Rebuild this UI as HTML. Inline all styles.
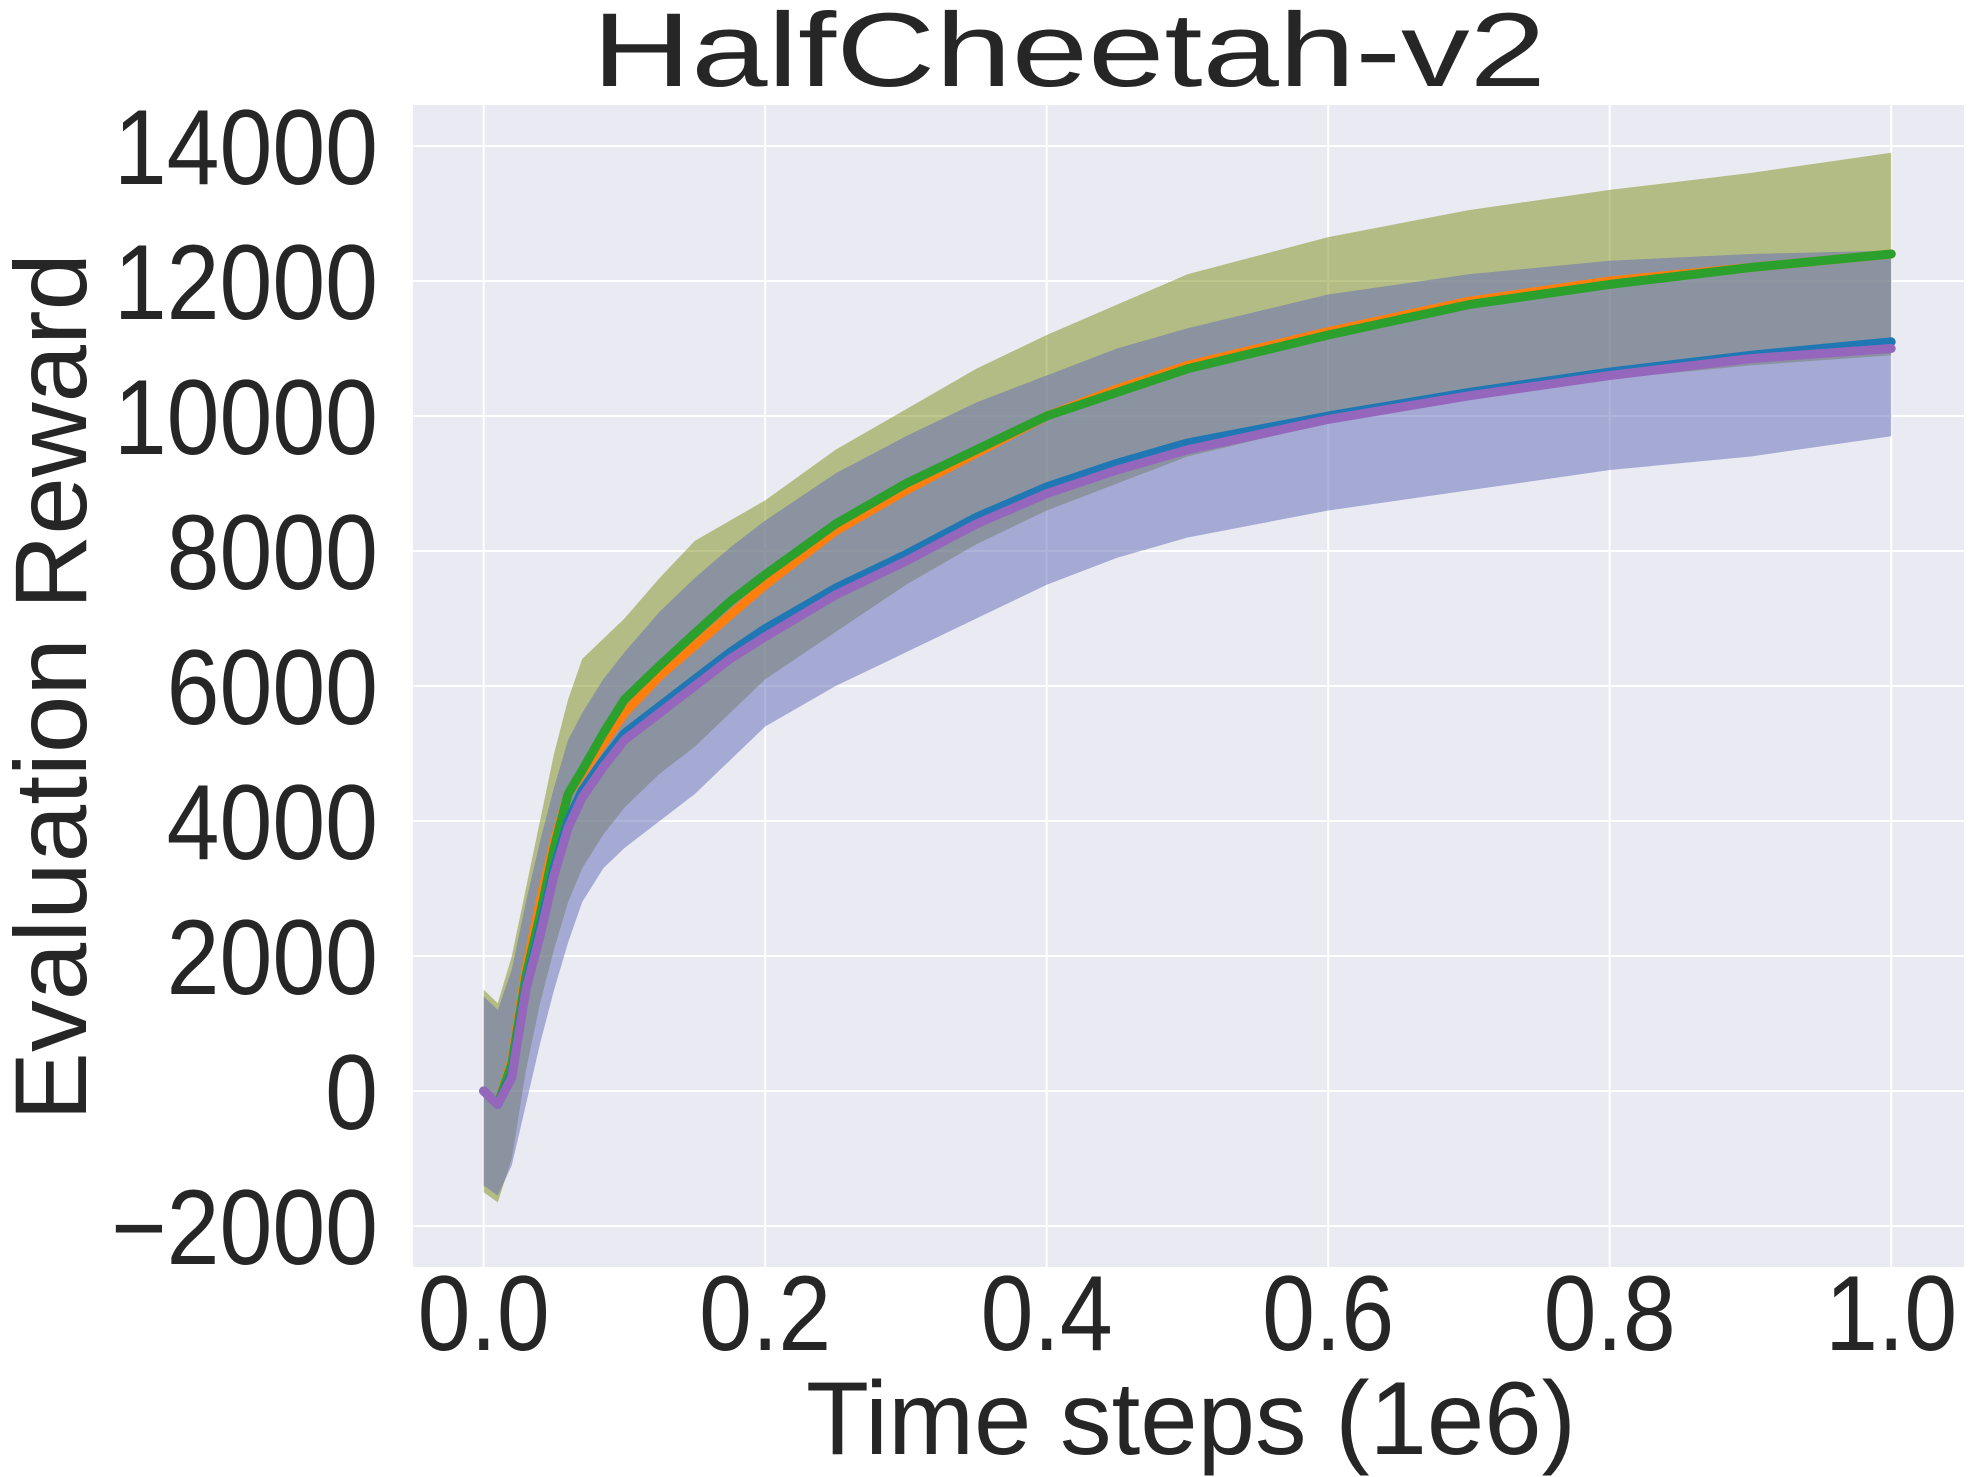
<!DOCTYPE html>
<html><head><meta charset="utf-8"><style>
html,body{margin:0;padding:0;background:#fff;}
svg{display:block;font-family:"Liberation Sans",Arial,sans-serif;}
</style></head><body>
<svg id="chart" width="1974" height="1477" viewBox="0 0 1974 1477" xmlns="http://www.w3.org/2000/svg">
<rect x="413" y="105" width="1551" height="1162" fill="#eaeaf2"/>
<g id="grid"></g>
<g id="bands"></g>
<g id="lines"></g>
<g id="ticks" fill="#262626" font-size="95"></g>
<text transform="translate(592,86) scale(1,1.13)" x="0" y="0" font-size="93" fill="#262626" textLength="954" lengthAdjust="spacingAndGlyphs">HalfCheetah-v2</text>
<text transform="translate(806,1454) scale(1,1.12)" x="0" y="0" font-size="93" fill="#262626" textLength="770" lengthAdjust="spacingAndGlyphs">Time steps (1e6)</text>
<text transform="translate(86,1121) rotate(-90) scale(1,1.1)" x="0" y="0" font-size="93" fill="#262626" textLength="868" lengthAdjust="spacingAndGlyphs">Evaluation Reward</text>
</svg>
<script>
const xs = [0,0.01,0.02,0.03,0.04,0.05,0.06,0.07,0.085,0.1,0.125,0.15,0.175,0.2,0.25,0.3,0.35,0.4,0.45,0.5,0.6,0.7,0.8,0.9,1.0];
const greenMean = [0,-200,400,1700,2600,3600,4400,4750,5300,5800,6300,6780,7250,7650,8400,9000,9500,10000,10350,10700,11200,11650,11950,12200,12400];
const orangeMean = [0,-200,450,1800,2800,3700,4400,4700,5150,5600,6150,6600,7050,7500,8300,8900,9450,10000,10400,10750,11250,11700,12000,12200,12400];
const greenUpper = [1500,1300,2000,3000,4000,5000,5800,6400,6700,7000,7600,8150,8450,8750,9500,10100,10700,11200,11650,12100,12650,13050,13350,13600,13900];
const greenLower = [-1500,-1650,-1000,300,1300,2100,2800,3300,3800,4200,4700,5100,5600,6100,6800,7500,8100,8600,9000,9400,9900,10300,10550,10750,10900];
const blueMean = [0,-200,250,1550,2400,3300,4000,4450,4900,5300,5700,6100,6500,6850,7450,7950,8500,8950,9300,9600,10000,10350,10650,10900,11100];
const purpleMean = [0,-200,200,1500,2300,3200,3900,4350,4800,5200,5600,6000,6400,6730,7350,7850,8400,8850,9200,9500,9950,10300,10600,10850,11000];
const blueUpper = [1400,1200,1800,2800,3700,4500,5200,5600,6100,6500,7100,7600,8050,8450,9150,9700,10200,10600,11000,11300,11800,12100,12300,12400,12450];
const blueLower = [-1400,-1550,-1100,-200,700,1500,2200,2800,3300,3600,4000,4400,4900,5400,6000,6500,7000,7500,7900,8200,8600,8900,9200,9400,9700];
const yTicks = [-2000,0,2000,4000,6000,8000,10000,12000,14000];
const yTickLabels = ["\u22122000","0","2000","4000","6000","8000","10000","12000","14000"];
const xTicks = [0,0.2,0.4,0.6,0.8,1.0];
const xTickLabels = ["0.0","0.2","0.4","0.6","0.8","1.0"];

const NS="http://www.w3.org/2000/svg";
function sx(v){return 483.7+v*1407.5;}
function sy(v){return 1091-v*0.0675;}
function mk(tag,attrs,parent){const e=document.createElementNS(NS,tag);for(const k in attrs)e.setAttribute(k,attrs[k]);parent.appendChild(e);return e;}
const grid=document.getElementById('grid'),bands=document.getElementById('bands'),lines=document.getElementById('lines'),ticks=document.getElementById('ticks');
yTicks.forEach((t,i)=>{
  const l=mk('line',{x1:413,x2:1964,y1:sy(t),y2:sy(t),stroke:'#fff','stroke-width':2},grid);
  
  
  const tx=mk('text',{x:0,y:0,'text-anchor':'end',transform:'translate(378,'+(sy(t)+38)+') scale(1,1.12)'},ticks);
  tx.textContent=yTickLabels[i];
  
  
});
xTicks.forEach((t,i)=>{
  const l=mk('line',{x1:sx(t),x2:sx(t),y1:105,y2:1267,stroke:'#fff','stroke-width':2},grid);
  
  
  const tx=mk('text',{x:0,y:0,'text-anchor':'middle',transform:'translate('+sx(t)+',1350) scale(1,1.12)'},ticks);
  tx.textContent=xTickLabels[i];
  
  
});
function linePts(arr){return arr.map((v,i)=>sx(xs[i]).toFixed(1)+','+sy(v).toFixed(1));}
function band(up,lo,color,name){
  const pts=linePts(up).concat(linePts(lo).reverse());
  const p=mk('polygon',{points:pts.join(' '),fill:color,'fill-opacity':0.3,'stroke-linejoin':'round'},bands);
  
  
}
band(greenUpper,greenLower,'#ff7f0e','orange-band');
band(greenUpper,greenLower,'#2ca02c','green-band');
band(blueUpper,blueLower,'#1f77b4','blue-band');
band(blueUpper,blueLower,'#9467bd','purple-band');
function line(arr,color,name){
  const p=mk('polyline',{points:linePts(arr).join(' '),fill:'none',stroke:color,'stroke-width':9,'stroke-linejoin':'round','stroke-linecap':'round'},lines);
  
  
}
line(orangeMean,'#ff7f0e','orange-line');
line(greenMean,'#2ca02c','green-line');
line(blueMean,'#1f77b4','blue-line');
line(purpleMean,'#9467bd','purple-line');
</script>
</body></html>
